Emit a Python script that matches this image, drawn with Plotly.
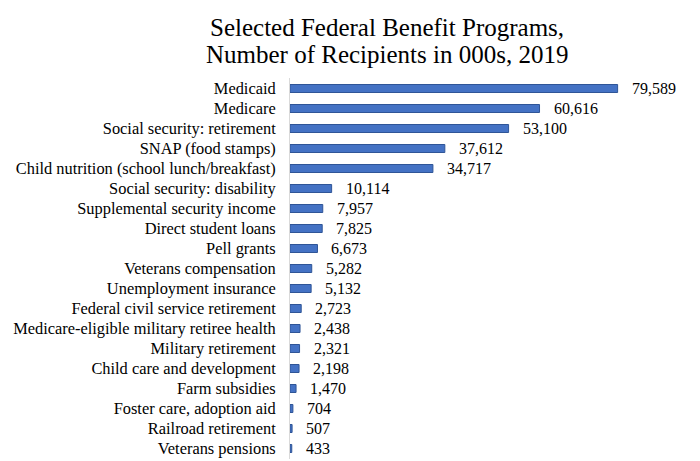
import plotly.graph_objects as go

programs = [
    "Medicaid", "Medicare", "Social security: retirement", "SNAP (food stamps)",
    "Child nutrition (school lunch/breakfast)", "Social security: disability",
    "Supplemental security income", "Direct student loans", "Pell grants",
    "Veterans compensation", "Unemployment insurance",
    "Federal civil service retirement", "Medicare-eligible military retiree health",
    "Military retirement", "Child care and development", "Farm subsidies",
    "Foster care, adoption aid", "Railroad retirement", "Veterans pensions",
]
recipients = [79589, 60616, 53100, 37612, 34717, 10114, 7957, 7825, 6673,
              5282, 5132, 2723, 2438, 2321, 2198, 1470, 704, 507, 433]
title_lines = ["Selected Federal Benefit Programs,", "Number of Recipients in 000s, 2019"]

serif = "Liberation Serif, Times New Roman, serif"

fig = go.Figure(go.Bar(
    x=recipients, y=programs, orientation="h",
    marker=dict(color="#4472C4", line=dict(color="#2F5597", width=1)),
    hoverinfo="x+y",
))

for p, v in zip(programs, recipients):
    fig.add_annotation(x=v, y=p, text=f"{v:,}", showarrow=False,
                       xanchor="left", yanchor="middle", xshift=12,
                       font=dict(family=serif, size=16, color="black"))

for line, yy in zip(title_lines, [1.132, 1.062]):
    fig.add_annotation(xref="paper", yref="paper", x=0.249, y=yy, text=line,
                       showarrow=False, xanchor="center", yanchor="middle",
                       font=dict(family=serif, size=25, color="black"))

fig.update_layout(
    width=692, height=453,
    margin=dict(l=282, r=21, t=70, b=2),
    paper_bgcolor="white", plot_bgcolor="white",
    bargap=0.6,
    showlegend=False,
    xaxis=dict(range=[0, 94500], visible=False, showgrid=False, zeroline=False),
    yaxis=dict(autorange="reversed", showline=True, linecolor="#d9d9d9", linewidth=1,
               showgrid=False, ticks="", ticklabelstandoff=10,
               tickfont=dict(family=serif, size=16.4, color="black")),
)

fig.write_html("out.html")
